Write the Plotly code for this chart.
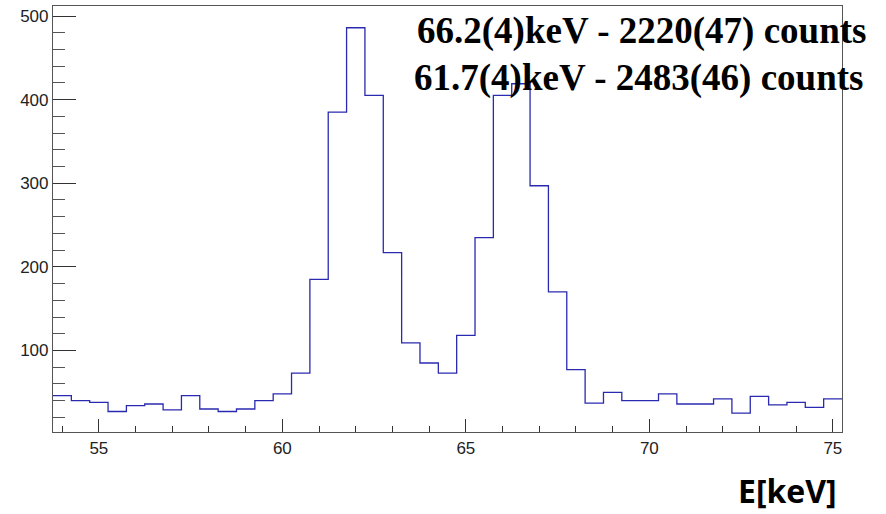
import plotly.graph_objects as go

# Bin centres (keV), bin width 0.5 keV
energy = [54.0 + 0.5 * i for i in range(43)]
counts = [46, 40, 38, 27, 34, 36, 29, 46, 30, 27, 30, 40, 48, 73,
          185, 385, 486, 405, 217, 109, 85, 73, 118, 235, 405, 419,
          297, 170, 77, 37, 50, 40, 40, 48, 36, 36, 42, 25, 45, 35,
          38, 32, 42]
bin_width = 0.5

label1 = "66.2(4)keV - 2220(47) counts"
label2 = "61.7(4)keV - 2483(46) counts"
xtitle = "E[keV]"

edges = [e - bin_width / 2 for e in energy] + [energy[-1] + bin_width / 2]
yvals = counts + [counts[-1]]

fig = go.Figure()
fig.add_trace(go.Scatter(x=edges, y=yvals, mode="lines", line_shape="hv",
                         line=dict(color="#2a2ab0", width=1.3),
                         hoverinfo="skip", showlegend=False))

axis_common = dict(showline=True, linecolor="#555555", linewidth=1.2, mirror=True,
                   showgrid=False, zeroline=False, ticks="inside",
                   tickcolor="#333333", tickwidth=1,
                   tickfont=dict(family="Liberation Sans, Arial, sans-serif", size=17, color="#222222"))

fig.update_xaxes(range=[53.75, 75.25], dtick=5, tick0=55, ticklen=13,
                 minor=dict(ticks="inside", dtick=1, tick0=55, ticklen=6, tickcolor="#333333"),
                 **axis_common)
fig.update_yaxes(range=[2.5, 512], dtick=100, tick0=0, ticklen=23,
                 minor=dict(ticks="inside", dtick=20, tick0=0, ticklen=12, tickcolor="#555555"),
                 **axis_common)

serif = dict(family="Liberation Serif, Times New Roman, serif", size=37, color="black")
fig.add_annotation(text="<b>" + label1 + "</b>", xref="paper", yref="paper", x=(641.5 - 53) / 789,
                   y=1 - (31 - 6) / 426, xanchor="center", yanchor="middle", showarrow=False, font=serif)
fig.add_annotation(text="<b>" + label2 + "</b>", xref="paper", yref="paper", x=(638 - 53) / 789,
                   y=1 - (78 - 6) / 426, xanchor="center", yanchor="middle", showarrow=False, font=serif)
fig.add_annotation(text="<b>" + xtitle + "</b>", xref="paper", yref="paper", x=(839 - 53) / 789,
                   y=-(491 - 432) / 426, xanchor="right", yanchor="middle", showarrow=False,
                   font=dict(family="Open Sans, Noto Sans, sans-serif", size=32, color="black"))

fig.update_layout(width=886, height=514, margin=dict(l=53, r=44, t=6, b=82),
                  plot_bgcolor="white", paper_bgcolor="white")

fig.write_html("out.html", config={"displayModeBar": False},
               post_script="document.body.style.margin='0px';document.body.style.overflow='hidden';")
